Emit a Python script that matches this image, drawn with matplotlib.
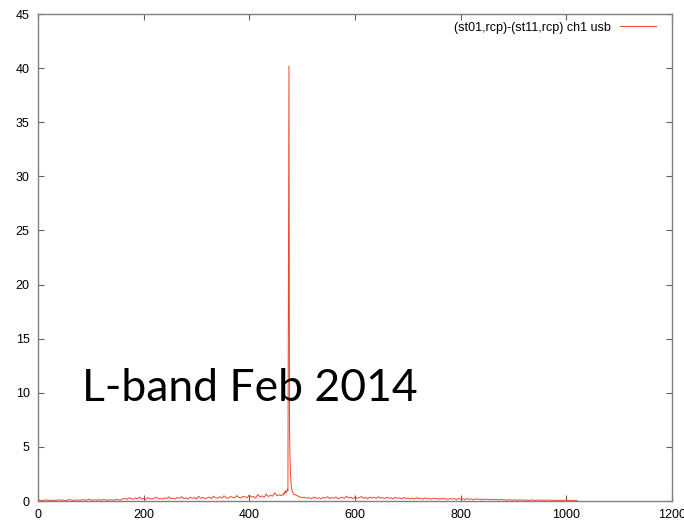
import numpy as np
import matplotlib
matplotlib.use('Agg')
import matplotlib.pyplot as plt

# channel spectrum (amplitude vs channel)
pre_ch = list(range(0, 464, 4))
pre_amp = [
    0.05, 0.08, 0.04, 0.07, 0.10, 0.06, 0.03, 0.09, 0.05, 0.07,
    0.11, 0.06, 0.08, 0.04, 0.09, 0.12, 0.07, 0.05, 0.10, 0.08,
    0.06, 0.13, 0.09, 0.07, 0.15, 0.10, 0.06, 0.12, 0.08, 0.11,
    0.07, 0.14, 0.09, 0.06, 0.12, 0.10, 0.08, 0.15, 0.11, 0.09,
    0.18, 0.25, 0.14, 0.30, 0.22, 0.16, 0.28, 0.20, 0.35, 0.19,
    0.24, 0.15, 0.31, 0.22, 0.18, 0.27, 0.34, 0.20, 0.26, 0.17,
    0.30, 0.23, 0.38, 0.21, 0.27, 0.19, 0.33, 0.25, 0.40, 0.22,
    0.29, 0.18, 0.36, 0.24, 0.31, 0.20, 0.42, 0.26, 0.33, 0.21,
    0.28, 0.37, 0.22, 0.45, 0.30, 0.25, 0.39, 0.27, 0.48, 0.31,
    0.24, 0.41, 0.35, 0.29, 0.50, 0.33, 0.26, 0.44, 0.38, 0.30,
    0.55, 0.36, 0.42, 0.28, 0.60, 0.39, 0.47, 0.33, 0.65, 0.41,
    0.52, 0.45, 0.75, 0.48, 0.58, 0.50,
]

spike_ch = list(range(464, 485))
spike_amp = [
    0.62, 0.55, 0.80, 0.70, 0.95, 0.85, 0.75, 0.90, 1.10, 0.95,
    21.5, 40.2, 7.0, 3.8, 2.4, 1.6, 1.2, 0.95, 0.80, 0.70, 0.62,
]

post_ch = list(range(488, 1024, 4))
post_amp = [
    0.55, 0.45, 0.38, 0.30, 0.35, 0.25, 0.32, 0.22, 0.28, 0.36,
    0.24, 0.30, 0.20, 0.34, 0.27, 0.40, 0.23, 0.31, 0.26, 0.38,
    0.21, 0.29, 0.35, 0.24, 0.45, 0.28, 0.33, 0.22, 0.37, 0.26,
    0.30, 0.41, 0.25, 0.32, 0.20, 0.36, 0.27, 0.34, 0.23, 0.39,
    0.28, 0.31, 0.22, 0.35, 0.26, 0.30, 0.19, 0.33, 0.25, 0.29,
    0.21, 0.32, 0.24, 0.28,
    0.20, 0.27, 0.18, 0.30, 0.22, 0.25, 0.17, 0.28, 0.21, 0.24,
    0.16, 0.26, 0.20, 0.23, 0.15, 0.25, 0.19, 0.22, 0.14, 0.24,
    0.18, 0.21, 0.13, 0.23, 0.17, 0.20, 0.12, 0.22, 0.16, 0.19,
    0.11, 0.20, 0.15, 0.18, 0.10, 0.19, 0.14, 0.17, 0.10, 0.16,
    0.13, 0.15, 0.09, 0.14, 0.12,
    0.10, 0.08, 0.12, 0.07, 0.09, 0.11, 0.06, 0.10, 0.08, 0.07,
    0.09, 0.05, 0.08, 0.10, 0.06, 0.07, 0.09, 0.05, 0.08, 0.06,
    0.07, 0.09, 0.05, 0.06, 0.08, 0.04, 0.07, 0.05, 0.06, 0.08,
    0.04, 0.06, 0.05, 0.07, 0.04,
]

series_label = '(st01,rcp)-(st11,rcp) ch1 usb'
x_ticks = [0, 200, 400, 600, 800, 1000, 1200]
y_ticks = [0, 5, 10, 15, 20, 25, 30, 35, 40, 45]

ch = np.array(pre_ch + spike_ch + post_ch)
amp = np.array(pre_amp + spike_amp + post_amp)

plt.rcParams['font.family'] = ['Liberation Sans', 'DejaVu Sans']

fig = plt.figure(figsize=(6.84, 5.23), dpi=100)
ax = fig.add_axes([38 / 684, 22 / 523, 634 / 684, 487 / 523])

ax.plot(ch, amp, color='#f0442a', lw=0.7, label=series_label)

ax.set_xlim(0, 1200)
ax.set_ylim(0, 45)
ax.set_xticks(x_ticks)
ax.set_yticks(y_ticks)
for s in ax.spines.values():
    s.set_color('#808080')
    s.set_linewidth(1.0)
ax.tick_params(direction='in', length=4, width=0.8, color='#606060',
               top=True, right=True, labelsize=9, pad=6)

ax.legend(loc='upper right', frameon=False, markerfirst=False,
          fontsize=9, handlelength=2.9, handletextpad=0.7,
          borderaxespad=0.2, bbox_to_anchor=(0.987, 1.0))

# big overlay caption (Calibri in the original; Lato is the closest width here)
ax.text(82 / 684, 122 / 523, 'L-band Feb 2014', transform=fig.transFigure,
        fontsize=32, family=['Lato', 'DejaVu Sans'], color='black')

plt.savefig('out.png', dpi=100)
